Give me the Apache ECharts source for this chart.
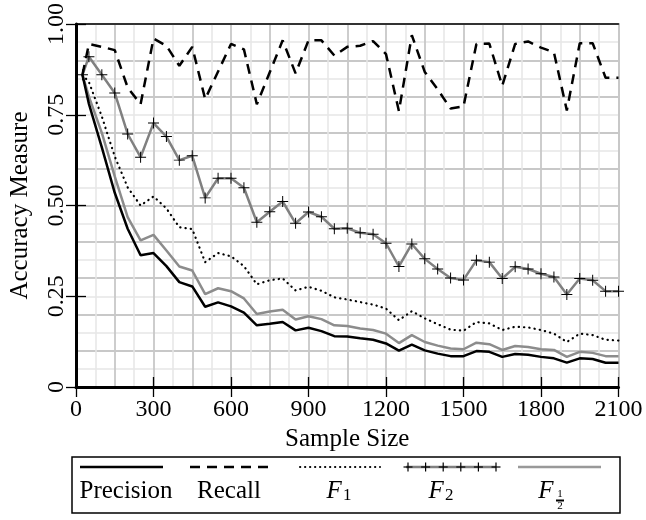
<!DOCTYPE html>
<html><head><meta charset="utf-8">
<script src="https://cdn.jsdelivr.net/npm/echarts@6/dist/echarts.min.js"></script>
<style>html,body{margin:0;padding:0;background:#fff}#c{width:646px;height:520px}</style>
</head><body><div id="c"></div>
<script>
var sampleSizes = [25,50,100,150,200,250,300,350,400,450,500,550,600,650,700,750,800,850,900,950,1000,1050,1100,1150,1200,1250,1300,1350,1400,1450,1500,1550,1600,1650,1700,1750,1800,1850,1900,1950,2000,2050,2100];
var precision = [0.86,0.78,0.66,0.535,0.436,0.363,0.369,0.333,0.289,0.277,0.221,0.233,0.222,0.205,0.170,0.174,0.179,0.156,0.163,0.154,0.140,0.139,0.134,0.130,0.120,0.100,0.117,0.101,0.092,0.085,0.085,0.099,0.097,0.083,0.091,0.089,0.083,0.079,0.067,0.079,0.077,0.067,0.067];
var recall = [0.86,0.945,0.937,0.928,0.825,0.779,0.960,0.940,0.885,0.937,0.793,0.869,0.945,0.930,0.779,0.867,0.955,0.864,0.955,0.955,0.913,0.937,0.940,0.953,0.917,0.760,0.969,0.868,0.820,0.767,0.773,0.945,0.946,0.830,0.945,0.952,0.935,0.922,0.762,0.947,0.947,0.852,0.852];
var f1 = [0.86,0.84,0.745,0.635,0.55,0.50,0.525,0.492,0.44,0.435,0.344,0.369,0.36,0.333,0.283,0.294,0.299,0.266,0.276,0.265,0.247,0.241,0.234,0.227,0.216,0.184,0.209,0.189,0.173,0.158,0.155,0.179,0.175,0.157,0.166,0.164,0.157,0.147,0.124,0.147,0.143,0.130,0.128];
var f2 = [0.86,0.91,0.86,0.81,0.697,0.633,0.727,0.69,0.625,0.637,0.521,0.575,0.575,0.549,0.454,0.483,0.511,0.451,0.482,0.469,0.436,0.437,0.425,0.421,0.396,0.332,0.394,0.353,0.325,0.300,0.295,0.349,0.344,0.299,0.331,0.325,0.312,0.303,0.255,0.299,0.294,0.264,0.264];
var fHalf = [0.86,0.80,0.70,0.58,0.468,0.404,0.419,0.376,0.332,0.321,0.256,0.272,0.264,0.244,0.201,0.208,0.213,0.186,0.195,0.187,0.170,0.168,0.161,0.157,0.147,0.121,0.143,0.124,0.114,0.106,0.104,0.122,0.118,0.102,0.113,0.110,0.104,0.102,0.083,0.097,0.094,0.085,0.085];
var xTicks = [0,300,600,900,1200,1500,1800,2100];
var yTicks = [0,0.25,0.5,0.75,1.0];
var seriesNames = ['Precision','Recall','F1','F2','F½'];

function pairs(arr){ return sampleSizes.map(function(x,i){ return [x, arr[i]]; }); }
var FONT = 'Liberation Serif';
var TXT = 25, TICK = 24;
var plus = 'path://M-0.09,-1H0.09V-0.09H1V0.09H0.09V1H-0.09V0.09H-1V-0.09H-0.09Z';

var chart = echarts.init(document.getElementById('c'), null, {renderer:'canvas'});
var grid = {left:72.5, right:27.5, top:23, bottom:133};
var xMin = xTicks[0], xMax = xTicks[xTicks.length-1];
var yMin = yTicks[0], yMax = yTicks[yTicks.length-1];

var lx = 72, ly = 457;
var legendGraphics = [
  {type:'rect', shape:{x:lx, y:ly, width:548, height:56}, style:{fill:'#fff', stroke:'#000', lineWidth:1.5}, z:50},
  {type:'line', shape:{x1:80,y1:467,x2:163,y2:467}, style:{stroke:'#000', lineWidth:2.5}, z:51},
  {type:'line', shape:{x1:190,y1:467,x2:272,y2:467}, style:{stroke:'#000', lineWidth:2.5, lineDash:[10,7]}, z:51},
  {type:'line', shape:{x1:300,y1:467,x2:380,y2:467}, style:{stroke:'#000', lineWidth:2, lineDash:[0.3,4.7], lineCap:'round'}, z:51},
  {type:'line', shape:{x1:406,y1:467,x2:496,y2:467}, style:{stroke:'#808080', lineWidth:2.5}, z:51},
  {type:'line', shape:{x1:518,y1:467,x2:601,y2:467}, style:{stroke:'#999', lineWidth:2.5}, z:51},
  {type:'text', x:126, y:491, style:{text:seriesNames[0], font:TXT+'px "'+FONT+'"', fill:'#000', textAlign:'center', textVerticalAlign:'middle'}, z:52},
  {type:'text', x:229, y:491, style:{text:seriesNames[1], font:TXT+'px "'+FONT+'"', fill:'#000', textAlign:'center', textVerticalAlign:'middle'}, z:52},
  {type:'text', x:339, y:491, style:{text:'{f|F}{s|1}', rich:{f:{fontFamily:FONT, fontStyle:'italic', fontSize:TXT, fill:'#000'}, s:{fontFamily:FONT, fontSize:17, fill:'#000', padding:[9,0,0,1]}}, textAlign:'center', textVerticalAlign:'middle'}, z:52},
  {type:'text', x:441, y:491, style:{text:'{f|F}{s|2}', rich:{f:{fontFamily:FONT, fontStyle:'italic', fontSize:TXT, fill:'#000'}, s:{fontFamily:FONT, fontSize:17, fill:'#000', padding:[9,0,0,1]}}, textAlign:'center', textVerticalAlign:'middle'}, z:52},
  {type:'text', x:546, y:491, style:{text:'F', font:'italic '+TXT+'px "'+FONT+'"', fill:'#000', textAlign:'center', textVerticalAlign:'middle'}, z:52},
  {type:'text', x:560, y:494, style:{text:'1', font:'11px "'+FONT+'"', fill:'#000', textAlign:'center', textVerticalAlign:'middle'}, z:52},
  {type:'rect', shape:{x:556, y:499.5, width:8, height:2}, style:{fill:'#000'}, z:52},
  {type:'text', x:560, y:506, style:{text:'2', font:'11px "'+FONT+'"', fill:'#000', textAlign:'center', textVerticalAlign:'middle'}, z:52}
];
for (var k=0;k<6;k++){
  var cx = 408 + k*17.6;
  legendGraphics.push({type:'line', shape:{x1:cx-4.5,y1:467,x2:cx+4.5,y2:467}, style:{stroke:'#000', lineWidth:1.2}, z:53});
  legendGraphics.push({type:'line', shape:{x1:cx,y1:462.5,x2:cx,y2:471.5}, style:{stroke:'#000', lineWidth:1.2}, z:53});
}

chart.setOption({
  animation:false,
  backgroundColor:'#fff',
  grid: grid,
  xAxis: [
    {type:'value', min:xMin, max:xMax, interval:300, position:'bottom',
     axisLine:{show:true, onZero:false, lineStyle:{color:'#000', width:3}},
     axisTick:{show:true, inside:false, length:10, lineStyle:{color:'#000', width:1.3}},
     axisLabel:{show:true, margin:11, color:'#000', fontFamily:FONT, fontSize:TICK, showMinLabel:true, showMaxLabel:true,
       formatter:function(v){ return String(v); }},
     splitLine:{show:false},
     name:'Sample Size', nameLocation:'middle', nameGap:38,
     nameTextStyle:{color:'#000', fontFamily:FONT, fontSize:TXT}},
    {type:'value', min:xMin, max:xMax, interval:300, position:'bottom',
     axisLine:{show:false, onZero:false}, axisTick:{show:true, inside:true, length:10, lineStyle:{color:'#000', width:1.3}},
     axisLabel:{show:false}, splitLine:{show:false}},
    {type:'value', min:xMin, max:xMax, interval:150, position:'top',
     axisLine:{show:true, onZero:false, lineStyle:{color:'#000', width:1.5}}, axisTick:{show:false}, axisLabel:{show:false},
     splitLine:{show:true, lineStyle:{color:'#c8c8c8', width:1.8}},
     minorTick:{show:false, splitNumber:2},
     minorSplitLine:{show:true, lineStyle:{color:'#e6e6e6', width:1.5}}}
  ],
  yAxis: [
    {type:'value', min:yMin, max:yMax, interval:0.25, position:'left',
     axisLine:{show:true, onZero:false, lineStyle:{color:'#000', width:3}},
     axisTick:{show:true, inside:false, length:10, lineStyle:{color:'#000', width:1.3}},
     axisLabel:{show:true, rotate:90, margin:7, color:'#000', fontFamily:FONT, fontSize:TICK,
       formatter:function(v){ return v===0 ? '0' : v.toFixed(2); }},
     splitLine:{show:false},
     name:'Accuracy Measure', nameLocation:'middle', nameGap:43, nameRotate:90,
     nameTextStyle:{color:'#000', fontFamily:FONT, fontSize:TXT}},
    {type:'value', min:yMin, max:yMax, interval:0.25, position:'left',
     axisLine:{show:false, onZero:false}, axisTick:{show:true, inside:true, length:10, lineStyle:{color:'#000', width:1.3}},
     axisLabel:{show:false}, splitLine:{show:false}},
    {type:'value', min:yMin, max:yMax, interval:0.1, position:'right',
     axisLine:{show:true, onZero:false, lineStyle:{color:'#c8c8c8', width:2}}, axisTick:{show:false}, axisLabel:{show:false},
     splitLine:{show:true, lineStyle:{color:'#c8c8c8', width:1.8}},
     minorTick:{show:false, splitNumber:2},
     minorSplitLine:{show:true, lineStyle:{color:'#e6e6e6', width:1.5}}}
  ],
  series: [
    {name:seriesNames[4], type:'line', data:pairs(fHalf), showSymbol:false, symbol:'none', lineStyle:{color:'#8c8c8c', width:2.5}, z:3},
    {name:seriesNames[0], type:'line', data:pairs(precision), showSymbol:false, symbol:'none', lineStyle:{color:'#000', width:2.5}, z:4},
    {name:seriesNames[2], type:'line', data:pairs(f1), showSymbol:false, symbol:'none', lineStyle:{color:'#000', width:2.2, type:[0.3,5], cap:'round'}, z:4},
    {name:seriesNames[3], type:'line', data:pairs(f2), symbol:plus, symbolSize:11, showSymbol:true, itemStyle:{color:'#000'}, lineStyle:{color:'#808080', width:2.5}, z:5},
    {name:seriesNames[1], type:'line', data:pairs(recall), showSymbol:false, symbol:'none', lineStyle:{color:'#000', width:2.5, type:[10,7]}, z:6}
  ],
  graphic: legendGraphics
});
</script></body></html>
